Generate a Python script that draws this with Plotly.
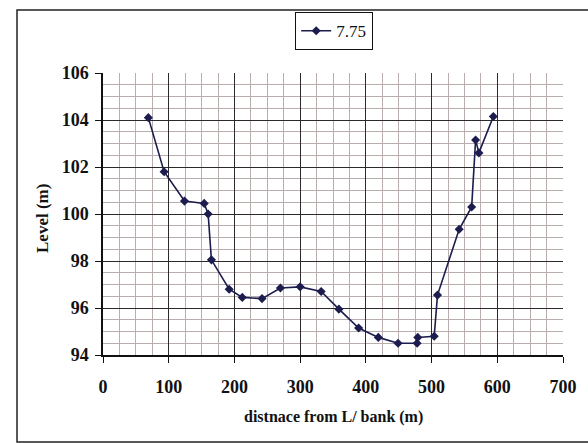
import plotly.graph_objects as go

distance = [69, 93, 124, 154, 160, 165, 192, 212, 242, 270, 300, 332, 359, 389,
            419, 449, 478, 479, 504, 509, 542, 561, 567, 572, 594]
level = [104.1, 101.8, 100.55, 100.45, 100.0, 98.05, 96.8, 96.45, 96.4, 96.85,
         96.9, 96.7, 95.95, 95.15, 94.75, 94.5, 94.5, 94.75, 94.8, 96.55,
         99.35, 100.3, 103.15, 102.6, 104.15]
series_name = "7.75"
x_title = "distnace from L/ bank (m)"
y_title = "Level (m)"

W, H = 588, 443
L, R, T, B = 103, 25, 73, 88
pw, ph = W - L - R, H - T - B

def px_x(p):
    return (p - L) / pw

def px_y(p):
    return (H - B - p) / ph

serif = "Liberation Serif, Times New Roman, serif"
line_col = "#1c1c4e"

fig = go.Figure()
fig.add_trace(go.Scatter(
    x=distance, y=level, mode="lines+markers", name=series_name,
    line=dict(color=line_col, width=1.6),
    marker=dict(symbol="diamond", size=7, color=line_col),
    showlegend=True,
))

axis_common = dict(
    showgrid=True, gridcolor="#2a2a2a", gridwidth=1.3,
    zeroline=False, showline=True, linecolor="#111111", linewidth=1.5,
    ticks="outside", ticklen=6, tickcolor="#111111", tickwidth=1.3,
    tickfont=dict(family=serif, size=18, color="#111111", weight="bold"),
)

fig.update_xaxes(
    range=[0, 700], dtick=100, tick0=0,
    minor=dict(dtick=25, showgrid=True, gridcolor="#b8aeae", gridwidth=0.8, ticks=""),
    ticklabelstandoff=9,
    **axis_common,
)
fig.update_yaxes(
    range=[94, 106], dtick=2, tick0=94,
    minor=dict(dtick=0.5, showgrid=True, gridcolor="#b8aeae", gridwidth=0.8, ticks=""),
    ticklabelstandoff=3,
    **axis_common,
)

fig.update_layout(
    width=W, height=H,
    margin=dict(l=L, r=R, t=T, b=B, autoexpand=False),
    paper_bgcolor="white", plot_bgcolor="white",
    font=dict(family=serif, color="#111111"),
    legend=dict(
        x=px_x(334), xanchor="center", y=px_y(12), yanchor="top",
        bordercolor="#111111", borderwidth=1.2, bgcolor="white",
        font=dict(family=serif, size=17, color="#111111"),
        itemwidth=30, tracegroupgap=0,
    ),
    annotations=[
        dict(text=x_title, xref="paper", yref="paper", x=px_x(333), y=px_y(417),
             xanchor="center", yanchor="middle", showarrow=False,
             font=dict(family=serif, size=16, color="#111111", weight="bold")),
        dict(text=y_title, xref="paper", yref="paper", x=px_x(42), y=px_y(218),
             xanchor="center", yanchor="middle", showarrow=False, textangle=-90,
             font=dict(family=serif, size=17, color="#111111", weight="bold")),
    ],
    shapes=[
        dict(type="rect", xref="paper", yref="paper",
             x0=px_x(17), x1=px_x(600), y0=px_y(442), y1=px_y(10),
             line=dict(color="#222222", width=1.5), fillcolor="rgba(0,0,0,0)",
             layer="below"),
    ],
)

fig.write_html("out.html")
